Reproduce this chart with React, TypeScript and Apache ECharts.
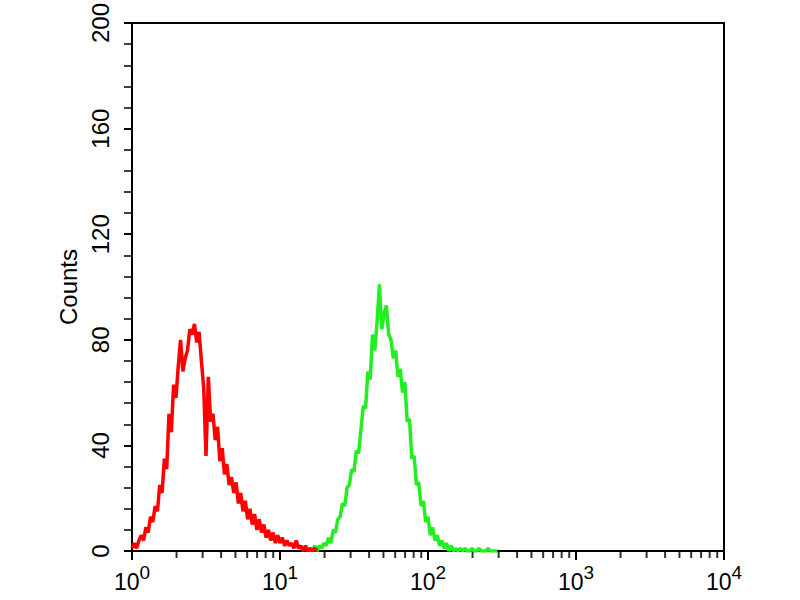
import React, { useEffect, useRef } from "react";
import * as echarts from "echarts";

// Flow cytometry histogram: counts per channel (1024 channels over 4 decades, 256 channels/decade)
const CHANNELS_PER_DECADE = 256;
const CHANNEL_STEP = 4;

const redStartChannel = 0;
const redCounts = [
  1, 3, 1, 4, 6, 4, 9, 7, 13, 11, 17, 15, 25, 22, 35, 31, 52, 45, 63, 58,
  70, 80, 68, 73, 76, 84, 82, 86, 79, 83, 72, 62, 36, 66, 49, 52, 42, 47, 34, 39,
  29, 33, 25, 28, 22, 26, 18, 22, 15, 19, 12, 16, 10, 14, 8, 12, 7, 10, 5, 8,
  4, 7, 3, 6, 3, 5, 2, 4, 2, 3, 1, 4, 1, 2, 0, 2, 0, 1, 0, 1, 0,
];

const greenStartChannel = 304;
const greenCounts = [
  0, 1, 0, 2, 0, 2, 1, 3, 2, 5, 3, 8, 7, 12, 13, 18, 17, 24, 25, 31,
  30, 38, 37, 46, 55, 54, 68, 65, 82, 76, 87, 101, 84, 90, 93, 82, 80, 73, 76, 66,
  69, 60, 64, 49, 50, 35, 36, 25, 26, 17, 19, 11, 13, 6, 9, 4, 6, 2, 4, 1,
  3, 0, 2, 0, 1, 0, 1, 0, 1, 0, 0, 1, 0, 0, 1, 0, 0, 0, 1, 0, 0, 0, 0,
];

const xDecades = [1, 10, 100, 1000, 10000];
const xMinorMultipliers = [2, 3, 4, 5, 6, 7, 8, 9];
const yTicks = [0, 40, 80, 120, 160, 200];

function toPairs(start: number, counts: number[]): [number, number][] {
  return counts.map((c, i) => [
    Math.pow(10, (start + i * CHANNEL_STEP) / CHANNELS_PER_DECADE),
    c,
  ]);
}

export default function App() {
  const ref = useRef<HTMLDivElement>(null);
  useEffect(() => {
    if (!ref.current) return;
    const chart = echarts.init(ref.current, undefined, { renderer: "svg" });
    const minorTickData: [number, number][] = [];
    xDecades.slice(0, -1).forEach((d) =>
      xMinorMultipliers.forEach((m) => minorTickData.push([d * m, 0]))
    );
    const font = "Liberation Sans, Arial, sans-serif";
    chart.setOption({
      animation: false,
      backgroundColor: "#ffffff",
      grid: {
        left: 132,
        right: 76,
        top: 21,
        bottom: 49,
        show: true,
        borderColor: "#000",
        borderWidth: 2,
        backgroundColor: "transparent",
      },
      xAxis: {
        type: "log",
        logBase: 10,
        min: xDecades[0],
        max: xDecades[xDecades.length - 1],
        interval: 1,
        axisLine: { show: true, lineStyle: { color: "#000", width: 2 } },
        axisTick: { show: true, length: 9, lineStyle: { color: "#000", width: 2 } },
        splitLine: { show: false },
        axisLabel: {
          margin: 12,
          color: "#000",
          fontFamily: font,
          formatter: (v: number) => `{b|10}{s|${Math.round(Math.log10(v))}}`,
          rich: {
            b: { fontSize: 23, fontFamily: font, color: "#000", lineHeight: 30, verticalAlign: "bottom" },
            s: { fontSize: 19, fontFamily: font, color: "#000", lineHeight: 30, verticalAlign: "top", padding: [0, 0, 12, 0] },
          },
        },
      },
      yAxis: {
        type: "value",
        min: yTicks[0],
        max: yTicks[yTicks.length - 1],
        interval: yTicks[1] - yTicks[0],
        name: "Counts",
        nameLocation: "middle",
        nameRotate: 90,
        nameGap: 52,
        nameTextStyle: { fontSize: 24, fontFamily: font, color: "#000" },
        axisLine: { show: true, lineStyle: { color: "#000", width: 2 } },
        axisTick: { show: true, length: 8, lineStyle: { color: "#000", width: 2 } },
        minorTick: { show: true, splitNumber: 5, length: 8, lineStyle: { color: "#000", width: 1.5 } },
        splitLine: { show: false },
        axisLabel: {
          rotate: 90,
          margin: 20,
          fontSize: 24,
          fontFamily: font,
          color: "#000",
        },
      },
      series: [
        {
          type: "line",
          data: toPairs(redStartChannel, redCounts),
          showSymbol: false,
          lineStyle: { color: "#ff0000", width: 3.5 },
          itemStyle: { color: "#ff0000" },
          z: 3,
        },
        {
          type: "line",
          data: toPairs(greenStartChannel, greenCounts),
          showSymbol: false,
          lineStyle: { color: "#22ee22", width: 3.5 },
          itemStyle: { color: "#22ee22" },
          z: 2,
        },
        {
          type: "scatter",
          data: minorTickData,
          symbol: "rect",
          symbolSize: [2, 6],
          symbolOffset: [0, 4],
          itemStyle: { color: "#000" },
          clip: false,
          silent: true,
          z: 5,
        },
      ],
    });
    return () => chart.dispose();
  }, []);
  return (
    <div
      ref={ref}
      style={{ position: "fixed", left: 0, top: 0, width: 800, height: 600, background: "#fff" }}
    />
  );
}
